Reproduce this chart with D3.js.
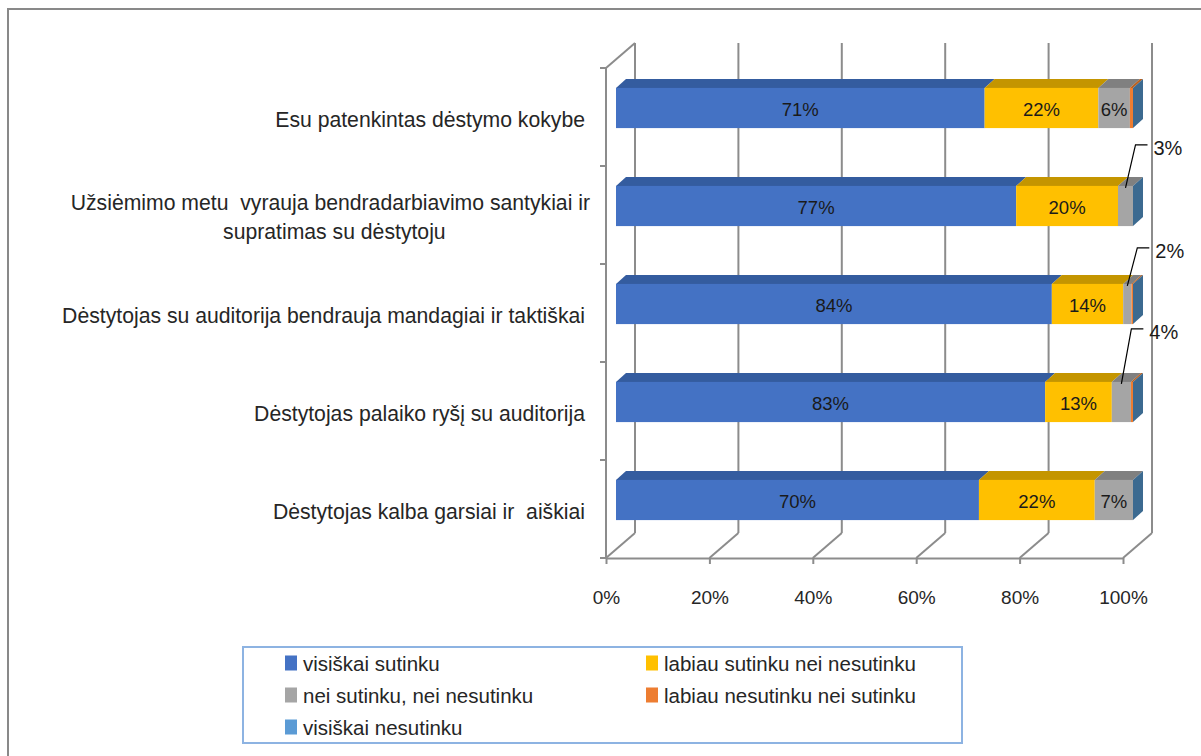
<!DOCTYPE html>
<html>
<head>
<meta charset="utf-8">
<script src="https://cdn.jsdelivr.net/npm/d3@7"></script>
<style>
  body { margin: 0; background: #fff; }
  svg { display: block; font-family: 'Liberation Sans', Arial, sans-serif; }
  text { white-space: pre; }
</style>
</head>
<body>
<svg width="1201" height="756"></svg>
<script>
'use strict';

// categories, top to bottom
var categories = [
  'Esu patenkintas dėstymo kokybe',
  'Užsiėmimo metu  vyrauja bendradarbiavimo santykiai ir|supratimas su dėstytoju',
  'Dėstytojas su auditorija bendrauja mandagiai ir taktiškai',
  'Dėstytojas palaiko ryšį su auditorija',
  'Dėstytojas kalba garsiai ir  aiškiai'
];

var seriesNames = [
  'visiškai sutinku',
  'labiau sutinku nei nesutinku',
  'nei sutinku, nei nesutinku',
  'labiau nesutinku nei sutinku',
  'visiškai nesutinku'
];

// shares
var visiskaiSutinku   = [0.713, 0.774, 0.843, 0.830, 0.702];
var labiauSutinku     = [0.220, 0.197, 0.138, 0.129, 0.224];
var neiSutinku        = [0.061, 0.029, 0.016, 0.037, 0.074];
var labiauNesutinku   = [0.006, 0.000, 0.003, 0.004, 0.000];
var visiskaiNesutinku = [0, 0, 0, 0, 0];

var xTicks = [0, 0.2, 0.4, 0.6, 0.8, 1];

var frontColors = ['#4472C4', '#FFC000', '#A5A5A5', '#ED7D31', '#5B9BD5'];
var topColors   = ['#345C9F', '#C49500', '#808080', '#B9601F', '#41719C'];
var capColor = '#3C6A90';

var svg = d3.select('svg');

// build rows for the stack
var rows = categories.map(function(c, i) {
  var r = {cat: c};
  r[seriesNames[0]] = visiskaiSutinku[i];
  r[seriesNames[1]] = labiauSutinku[i];
  r[seriesNames[2]] = neiSutinku[i];
  r[seriesNames[3]] = labiauNesutinku[i];
  r[seriesNames[4]] = visiskaiNesutinku[i];
  return r;
});
var stacked = d3.stack().keys(seriesNames)(rows);

// plot frame (front plane) and 3d depth
var x = d3.scaleLinear().domain([0, 1]).range([606, 1123]);
var y = d3.scaleBand().domain(categories).range([68, 558])
  .paddingInner(0.59).paddingOuter(0.295);
var yEdge = d3.scaleLinear().domain([0, categories.length]).range([68, 558]);
var depth = {dx: 29, dy: -25};
var barFront = {dx: 10, dy: -9};
var barBack = {dx: 20, dy: -18};

var pct = d3.format('.0%');
var grid = '#8C8C8C';

// outer chart border
svg.append('rect')
  .attr('x', 8).attr('y', 9).attr('width', 1200).attr('height', 760)
  .attr('fill', 'none').attr('stroke', '#898989').attr('stroke-width', 2);

// back wall gridlines and floor
var walls = svg.append('g').attr('stroke', grid).attr('stroke-width', 2).attr('fill', 'none');
walls.selectAll('.back')
  .data(xTicks)
  .enter().append('line')
  .attr('x1', function(d) { return x(d) + depth.dx; })
  .attr('x2', function(d) { return x(d) + depth.dx; })
  .attr('y1', yEdge(0) + depth.dy)
  .attr('y2', yEdge(categories.length) + depth.dy);
walls.selectAll('.floor')
  .data(xTicks)
  .enter().append('line')
  .attr('x1', function(d) { return x(d); })
  .attr('x2', function(d) { return x(d) + depth.dx; })
  .attr('y1', yEdge(categories.length))
  .attr('y2', yEdge(categories.length) + depth.dy);

// left wall
walls.append('line')
  .attr('x1', x(0)).attr('x2', x(0))
  .attr('y1', yEdge(0)).attr('y2', yEdge(categories.length));
walls.append('line')
  .attr('x1', x(0)).attr('x2', x(0) + depth.dx)
  .attr('y1', yEdge(0)).attr('y2', yEdge(0) + depth.dy);
walls.selectAll('.ytick')
  .data(d3.range(categories.length + 1))
  .enter().append('line')
  .attr('x1', x(0) - 6).attr('x2', x(0))
  .attr('y1', function(d) { return yEdge(d); })
  .attr('y2', function(d) { return yEdge(d); });

// x axis on the front edge of the floor
var xAxis = svg.append('g')
  .attr('transform', 'translate(0,' + yEdge(categories.length) + ')')
  .call(d3.axisBottom(x).tickValues(xTicks).tickFormat(pct)
    .tickSize(6).tickSizeOuter(0).tickPadding(27));
xAxis.selectAll('path, line').attr('stroke', grid).attr('stroke-width', 2);
xAxis.selectAll('text')
  .attr('fill', '#262626')
  .style('font-size', '19px')
  .style('font-family', "'Liberation Sans', Arial, sans-serif");

// category labels
var catLabels = svg.append('g')
  .attr('fill', '#262626')
  .style('font-size', '21.2px');
categories.forEach(function(c) {
  var lines = c.split('|');
  var cy = y(c) - y.step() * y.paddingInner() / 2 + y.step() / 2 + 2;
  if (lines.length === 1) {
    catLabels.append('text')
      .attr('x', 585).attr('y', cy)
      .attr('text-anchor', 'end')
      .attr('dominant-baseline', 'central')
      .text(c);
  } else {
    var first = catLabels.append('text')
      .attr('x', 590).attr('y', cy - 15)
      .attr('text-anchor', 'end')
      .attr('dominant-baseline', 'central')
      .text(lines[0]);
    var w = first.node().getComputedTextLength();
    catLabels.append('text')
      .attr('x', 590 - w / 2 + 4).attr('y', cy + 14)
      .attr('text-anchor', 'middle')
      .attr('dominant-baseline', 'central')
      .text(lines[1]);
  }
});

// 3d bars
var bars = svg.append('g');
stacked.forEach(function(layer, s) {
  layer.forEach(function(d, i) {
    if (d[1] - d[0] <= 0) return;
    var cat = categories[i];
    var x0 = x(d[0]) + barFront.dx;
    var x1 = x(d[1]) + barFront.dx;
    var yt = y(cat) + barFront.dy;
    var lift = barBack.dy - barFront.dy;
    var shift = barBack.dx - barFront.dx;
    bars.append('path')
      .attr('d', 'M' + x0 + ',' + yt + 'L' + x1 + ',' + yt +
        'L' + (x1 + shift) + ',' + (yt + lift) + 'L' + (x0 + shift) + ',' + (yt + lift) + 'Z')
      .attr('fill', topColors[s]);
    bars.append('rect')
      .attr('x', x0).attr('y', yt)
      .attr('width', x1 - x0).attr('height', y.bandwidth())
      .attr('fill', frontColors[s]);
  });
});

// end caps
rows.forEach(function(r) {
  var xe = x(1) + barFront.dx;
  var yt = y(r.cat) + barFront.dy;
  var lift = barBack.dy - barFront.dy;
  var shift = barBack.dx - barFront.dx;
  bars.append('path')
    .attr('d', 'M' + xe + ',' + yt + 'L' + (xe + shift) + ',' + (yt + lift) +
      'L' + (xe + shift) + ',' + (yt + lift + y.bandwidth()) + 'L' + xe + ',' + (yt + y.bandwidth()) + 'Z')
    .attr('fill', capColor);
});

// value labels
var calloutRise = [40, 41, 36, 53, 40];
var labels = svg.append('g').attr('fill', '#1A1A1A').style('font-size', '18.5px');
stacked.forEach(function(layer, s) {
  layer.forEach(function(d, i) {
    var v = d[1] - d[0];
    if (v < 0.01) return;
    var x0 = x(d[0]) + barFront.dx;
    var x1 = x(d[1]) + barFront.dx;
    var cx = (x0 + x1) / 2;
    var yt = y(categories[i]) + barFront.dy;
    if (v >= 0.05) {
      labels.append('text')
        .attr('x', cx).attr('y', yt + y.bandwidth() / 2 + 1)
        .attr('text-anchor', 'middle')
        .attr('dominant-baseline', 'central')
        .text(pct(v));
    } else {
      var ly = yt - calloutRise[i];
      labels.append('path')
        .attr('d', 'M' + cx + ',' + (yt + 2) + 'L' + (cx + 10) + ',' + ly + 'L' + (cx + 22) + ',' + ly)
        .attr('fill', 'none').attr('stroke', '#000').attr('stroke-width', 1.2);
      labels.append('text')
        .attr('x', cx + 28).attr('y', ly + 3)
        .attr('dominant-baseline', 'central')
        .style('font-size', '20px')
        .text(pct(v));
    }
  });
});

// legend
var legend = svg.append('g');
legend.append('rect')
  .attr('x', 243).attr('y', 647).attr('width', 719).attr('height', 96)
  .attr('fill', '#fff').attr('stroke', '#8DB3E2').attr('stroke-width', 2);
var item = legend.selectAll('.item')
  .data(seriesNames)
  .enter().append('g')
  .attr('transform', function(d, i) {
    return 'translate(' + (i % 2 ? 646 : 285) + ',' + (663 + Math.floor(i / 2) * 32) + ')';
  });
item.append('rect')
  .attr('x', 0).attr('y', -7.5).attr('width', 12).attr('height', 15)
  .attr('fill', function(d, i) { return frontColors[i]; });
item.append('text')
  .attr('x', 18).attr('y', 0)
  .attr('dominant-baseline', 'central')
  .attr('fill', '#262626')
  .style('font-size', '20.5px')
  .text(function(d) { return d; });
</script>
</body>
</html>
